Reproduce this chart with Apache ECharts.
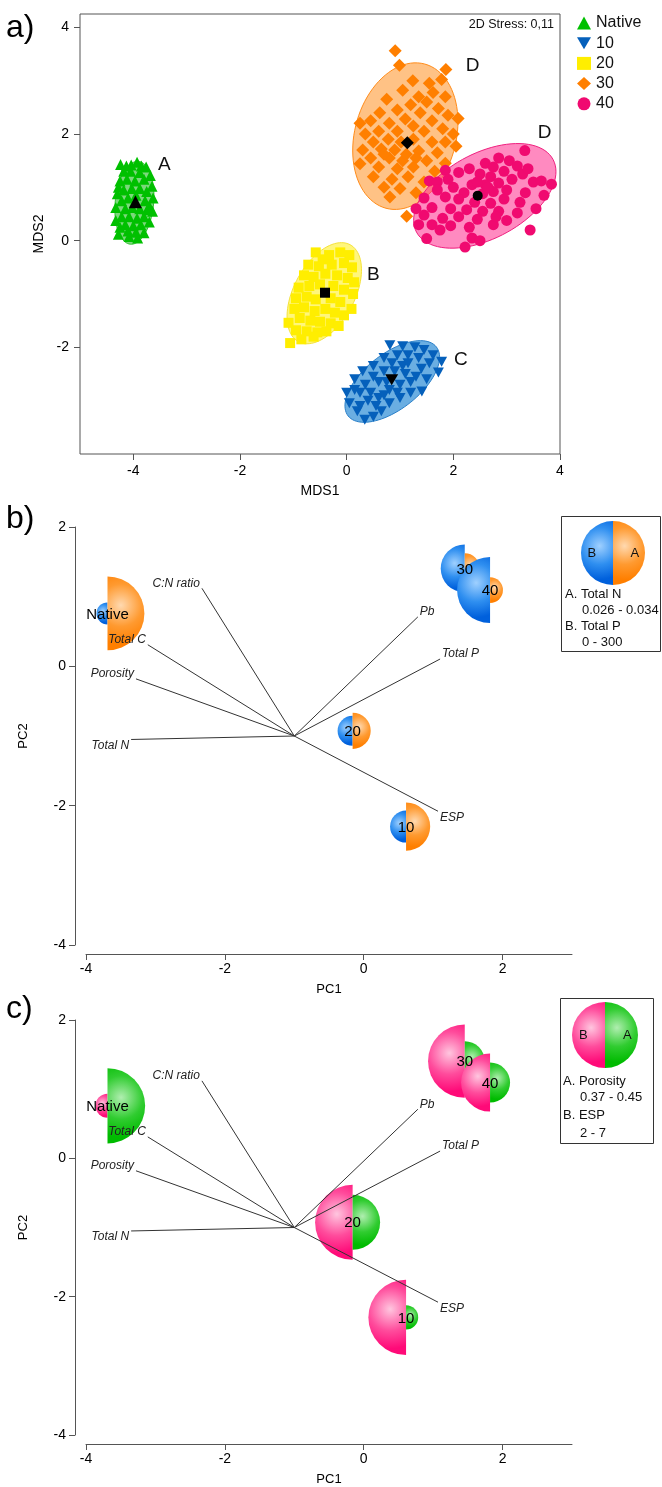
<!DOCTYPE html>
<html>
<head>
<meta charset="utf-8">
<script src="https://cdn.jsdelivr.net/npm/echarts@6/dist/echarts.min.js"></script>
<style>
html, body { margin: 0; padding: 0; background: #fff; }
#chart { width: 662px; height: 1487px; }
</style>
</head>
<body>
<div id="chart"></div>
<script>
// ---------- a) nMDS ordination: samples per treatment ----------
const groupNames = ['Native', '10', '20', '30', '40'];

const nativePts = [
  [-4.24,1.43],[-4.13,1.40],[-3.93,1.47],[-3.76,1.38],[-3.68,1.22],[-3.65,1.02],[-3.63,0.80],[-3.64,0.55],
  [-3.70,0.35],[-3.80,0.15],[-3.92,0.05],[-4.08,0.08],[-4.28,0.12],[-4.33,0.38],[-4.33,0.62],[-4.30,0.88],
  [-4.25,1.12],[-4.18,1.30],[-4.05,1.30],[-3.88,1.28],[-3.80,1.15],[-4.12,1.15],[-3.97,1.12],[-4.18,0.95],
  [-4.03,0.98],[-3.88,0.98],[-3.75,0.92],[-4.22,0.75],[-4.10,0.80],[-3.95,0.85],[-3.78,0.75],[-4.15,0.60],
  [-4.02,0.62],[-3.88,0.60],[-3.74,0.58],[-4.22,0.45],[-4.08,0.45],[-3.93,0.42],[-3.80,0.45],[-4.15,0.30],
  [-4.00,0.28],[-3.86,0.30],[-4.10,0.18],[-3.95,0.16],[-4.04,1.42],[-3.85,1.40],[-4.28,1.00],[-3.70,0.65],
  [-4.25,0.25],[-3.98,0.72]
];
const pts10 = [
  [0.81,-1.96],[1.05,-1.98],[1.28,-2.00],[1.45,-2.05],[1.62,-2.15],[1.78,-2.27],[1.72,-2.47],[1.55,-2.30],
  [1.35,-2.20],[1.15,-2.15],[0.95,-2.15],[0.70,-2.20],[0.50,-2.35],[0.30,-2.45],[0.15,-2.60],[0.00,-2.85],
  [0.05,-3.05],[0.20,-3.20],[0.34,-3.36],[0.50,-3.30],[0.65,-3.20],[0.80,-3.05],[1.00,-2.95],[1.20,-2.85],
  [1.41,-2.83],[1.50,-2.60],[1.30,-2.55],[1.10,-2.50],[0.90,-2.45],[0.70,-2.45],[0.50,-2.55],[0.35,-2.70],
  [0.25,-2.85],[0.40,-3.00],[0.60,-2.95],[0.80,-2.80],[1.00,-2.70],[1.20,-2.65],[1.05,-2.35],[0.85,-2.30],
  [0.60,-2.65],[0.45,-2.85],[0.70,-2.90],[0.95,-2.85],[1.40,-2.40],[0.25,-3.10],[0.55,-3.10],[0.75,-2.65],
  [1.15,-2.30],[0.15,-2.80]
];
const pts20 = [
  [-0.58,-0.22],[-0.33,-0.27],[-0.12,-0.22],[0.05,-0.27],[-0.45,-0.35],
  [-0.72,-0.45],[-0.52,-0.48],[-0.28,-0.45],[-0.05,-0.42],[0.10,-0.50],
  [-0.80,-0.65],[-0.62,-0.68],[-0.40,-0.62],[-0.18,-0.65],[0.02,-0.70],[0.14,-0.78],
  [-0.90,-0.88],[-0.70,-0.85],[-0.50,-0.82],[-0.25,-0.85],[-0.05,-0.92],[0.12,-1.00],
  [-0.95,-1.08],[-0.75,-1.05],[-0.58,-1.10],[-0.30,-1.08],[-0.12,-1.15],[0.09,-1.28],
  [-0.98,-1.28],[-0.80,-1.25],[-0.60,-1.32],[-0.40,-1.28],[-0.22,-1.35],[-0.05,-1.40],
  [-1.09,-1.54],[-0.88,-1.45],[-0.68,-1.50],[-0.50,-1.52],[-0.30,-1.55],[-0.15,-1.60],
  [-0.95,-1.68],[-0.75,-1.70],[-0.55,-1.72],[-0.38,-1.70],
  [-1.06,-1.92],[-0.85,-1.85],[-0.62,-1.80]
];
const pts30 = [
  [0.91,3.56],[0.99,3.29],[1.86,3.21],[1.78,3.02],[1.24,3.00],[1.55,2.95],[1.05,2.82],[1.62,2.78],
  [1.85,2.70],[0.75,2.65],[1.35,2.70],[1.20,2.55],[1.50,2.60],[1.72,2.48],[0.95,2.45],[0.62,2.40],
  [1.38,2.40],[1.90,2.35],[2.09,2.29],[0.25,2.20],[0.45,2.25],[0.80,2.20],[1.10,2.28],[1.60,2.25],
  [1.25,2.15],[1.80,2.10],[0.35,2.00],[0.60,2.05],[0.95,2.05],[1.45,2.05],[2.00,2.00],[0.50,1.85],
  [0.78,1.90],[1.25,1.90],[1.60,1.85],[1.85,1.85],[2.05,1.77],[0.30,1.70],[0.65,1.72],[0.90,1.70],
  [1.35,1.68],[1.70,1.65],[0.45,1.55],[0.80,1.55],[1.05,1.50],[1.50,1.50],[1.85,1.45],[0.25,1.44],
  [0.60,1.38],[0.95,1.35],[1.25,1.38],[1.65,1.30],[0.50,1.20],[0.85,1.15],[1.15,1.20],[1.45,1.10],
  [0.70,1.00],[1.00,0.98],[1.30,0.90],[0.81,0.82],[1.125,0.46],[1.12,1.62],[1.02,1.85],[1.30,1.55],
  [0.70,1.62]
];
const pts40 = [
  [3.34,1.69],[2.85,1.55],[3.05,1.50],[3.20,1.40],[2.60,1.45],[2.75,1.38],[2.30,1.35],[1.85,1.32],
  [2.10,1.28],[2.95,1.30],[3.30,1.25],[2.50,1.25],[2.70,1.20],[1.55,1.12],[1.70,1.10],[3.10,1.15],
  [3.50,1.10],[3.65,1.12],[3.84,1.06],[2.85,1.08],[2.35,1.05],[2.60,1.05],[2.00,1.00],[1.70,0.95],
  [3.00,0.95],[3.35,0.90],[3.70,0.85],[2.20,0.90],[2.75,0.92],[2.55,0.88],[1.45,0.80],[1.85,0.82],
  [2.10,0.78],[2.95,0.78],[3.25,0.72],[2.40,0.72],[2.70,0.70],[1.30,0.60],[1.60,0.62],[1.95,0.60],
  [2.25,0.58],[2.55,0.55],[2.85,0.55],[3.55,0.60],[1.45,0.48],[1.80,0.42],[2.10,0.45],[2.45,0.40],
  [3.00,0.38],[1.35,0.30],[1.60,0.30],[1.95,0.28],[2.30,0.25],[2.75,0.30],[3.44,0.20],[1.50,0.04],
  [2.35,0.05],[2.50,0.00],[2.22,-0.12],[3.20,0.52],[2.65,1.00],[2.45,1.10],[3.40,1.35],[1.90,1.15],
  [2.80,0.45],[1.75,0.20]
];

// group centroids
const centroidX = [-3.96, 0.844, -0.406, 1.137, 2.457];
const centroidY = [0.73, -2.61, -0.976, 1.837, 0.844];

// group ellipses: centre, semi-axes and orientation (degrees from the MDS1 axis)
const ellipseCx = [-3.98, 0.855, -0.42, 1.10, 2.59];
const ellipseCy = [0.71, -2.64, -0.985, 1.96, 0.84];
const ellipseA = [0.78, 1.05, 1.03, 1.40, 1.45];
const ellipseB = [0.36, 0.52, 0.57, 0.95, 0.80];
const ellipseAngle = [84.4, 38, 62, 75, 28];

// significance letters
const groupLetters = ['A', 'C', 'B', 'D', 'D'];
const letterX = [-3.42, 2.14, 0.50, 2.36, 3.71];
const letterY = [1.43, -2.24, -0.64, 3.28, 2.03];

const stressLabel = '2D Stress: 0,11';

// ---------- b), c) PCA biplots ----------
const pcaSamples = ['Native', '10', '20', '30', '40'];
const pcaX = [-3.69, 0.61, -0.16, 1.455, 1.82];
const pcaY = [0.76, -2.30, -0.925, 1.405, 1.095];

const totalN = [0.0337, 0.0303, 0.0287, 0.0279, 0.0273];
const totalP = [30, 80, 70, 160, 250];
const porosity = [0.449, 0.381, 0.422, 0.402, 0.402];
const esp = [2.67, 6.95, 6.92, 6.78, 5.5];

const rangeTotalN = [0.026, 0.034];
const rangeTotalP = [0, 300];
const rangePorosity = [0.37, 0.45];
const rangeESP = [2, 7];

const vectorNames = ['C:N ratio', 'Total C', 'Porosity', 'Total N', 'Pb', 'Total P', 'ESP'];
const vectorX = [-2.33, -3.11, -3.28, -3.35, 0.78, 1.10, 1.07];
const vectorY = [1.12, 0.31, -0.18, -1.05, 0.71, 0.105, -2.08];
const vectorOrigin = [-1.0, -1.0];

// axis ticks
const mdsTicksX = [-4, -2, 0, 2, 4];
const mdsTicksY = [-2, 0, 2, 4];
const pcTicksX = [-4, -2, 0, 2];
const pcTicksY = [-4, -2, 0, 2];

// ---------- styling ----------
const FONT = '"Liberation Sans", Arial, sans-serif';
const DOWN_TRIANGLE = 'path://M0,0L2,0L1,1.732Z';
const markerColors = ['#00c000', '#0560bb', '#ffee00', '#ff7f00', '#f00a70'];
const ellipseFill = ['rgba(37,190,37,0.6)', 'rgba(26,130,210,0.65)', 'rgba(255,238,16,0.55)', 'rgba(255,143,32,0.55)', 'rgba(255,42,140,0.55)'];
const ellipseStroke = ['#33c033', '#2a7fc8', '#f5e23a', '#ff8c1a', '#f0207f'];
const groupSymbols = ['triangle', DOWN_TRIANGLE, 'rect', 'diamond', 'circle'];
const groupSize = [11, [11, 10], 10, 13, 11];
const centroidSize = [13, [13, 11], 10, 13, 10];
const groupPoints = [nativePts, pts10, pts20, pts30, pts40];

const PAL_ORANGE = ['#ffd9b0', '#ff9a30', '#ff7f00'];
const PAL_BLUE = ['#9fd0ff', '#2f8ff0', '#0060dc'];
const PAL_PINK = ['#ffc6df', '#ff4c9c', '#ff0a78'];
const PAL_GREEN = ['#b0eeb0', '#30cc30', '#00bb00'];

function bubbleR(v, range) {
  return 8 + 30 * (v - range[0]) / (range[1] - range[0]);
}

function halfDisc(cx, cy, r, side, pal) {
  const left = side === 'left';
  const hx = cx + (left ? -0.42 : 0.36) * r;
  const hy = cy - 0.22 * r;
  return {
    type: 'sector',
    shape: {
      cx: cx, cy: cy, r0: 0, r: r,
      startAngle: left ? Math.PI / 2 : -Math.PI / 2,
      endAngle: left ? 3 * Math.PI / 2 : Math.PI / 2,
      clockwise: true
    },
    style: {
      fill: new echarts.graphic.RadialGradient(hx, hy, r * 1.05, [
        { offset: 0, color: pal[0] },
        { offset: 0.55, color: pal[1] },
        { offset: 1, color: pal[2] }
      ], true)
    }
  };
}

function bubbleSeries(idx, valsA, rangeA, palA, valsB, rangeB, palB) {
  return {
    type: 'custom', xAxisIndex: idx, yAxisIndex: idx, z: 2, clip: false, silent: true,
    data: pcaSamples.map((s, i) => [pcaX[i], pcaY[i], valsA[i], valsB[i]]),
    renderItem: function (params, api) {
      const p = api.coord([api.value(0), api.value(1)]);
      const rA = bubbleR(api.value(2), rangeA);
      const rB = bubbleR(api.value(3), rangeB);
      return {
        type: 'group',
        children: [
          halfDisc(p[0], p[1], rB, 'left', palB),
          halfDisc(p[0], p[1], rA, 'right', palA)
        ]
      };
    }
  };
}

function sampleLabelSeries(idx) {
  return {
    type: 'custom', xAxisIndex: idx, yAxisIndex: idx, z: 3, clip: false, silent: true,
    data: pcaSamples.map((s, i) => [pcaX[i], pcaY[i], i]),
    renderItem: function (params, api) {
      const p = api.coord([api.value(0), api.value(1)]);
      return {
        type: 'text', x: p[0], y: p[1] + 1,
        style: { text: pcaSamples[api.value(2)], font: '15px ' + FONT, fill: '#000', align: 'center', verticalAlign: 'middle' }
      };
    }
  };
}

function vectorSeries(idx) {
  return {
    type: 'custom', xAxisIndex: idx, yAxisIndex: idx, z: 4, clip: false, silent: true,
    data: vectorNames.map((n, i) => [vectorX[i], vectorY[i], i]),
    renderItem: function (params, api) {
      const o = api.coord(vectorOrigin);
      const e = api.coord([api.value(0), api.value(1)]);
      const right = e[0] > o[0];
      const up = e[1] < o[1];
      return {
        type: 'group',
        children: [
          { type: 'line', shape: { x1: o[0], y1: o[1], x2: e[0], y2: e[1] }, style: { stroke: '#333', lineWidth: 1 } },
          {
            type: 'text', x: e[0] + (right ? 2 : -2), y: e[1] + (up ? 1 : 0),
            style: {
              text: vectorNames[api.value(2)], font: 'italic 12px ' + FONT, fill: '#222',
              align: right ? 'left' : 'right', verticalAlign: up ? 'bottom' : 'top'
            }
          }
        ]
      };
    }
  };
}

function pcAxes(gridIdx) {
  return {
    x: {
      type: 'value', gridIndex: gridIdx, min: -4, max: 3, offset: 9,
      axisLine: { show: true, onZero: false, lineStyle: { color: '#555', width: 1 } },
      axisTick: { show: true, length: 6, customValues: pcTicksX, lineStyle: { color: '#555' } },
      axisLabel: { customValues: pcTicksX, fontSize: 14, fontFamily: FONT, color: '#000', margin: 8 },
      splitLine: { show: false },
      name: 'PC1', nameLocation: 'middle', nameGap: 29,
      nameTextStyle: { fontSize: 13, fontFamily: FONT, color: '#000' }
    },
    y: {
      type: 'value', gridIndex: gridIdx, min: -4, max: 2, offset: 11,
      axisLine: { show: true, onZero: false, lineStyle: { color: '#555', width: 1 } },
      axisTick: { show: true, length: 6, customValues: pcTicksY, lineStyle: { color: '#555' } },
      axisLabel: { customValues: pcTicksY, fontSize: 14, fontFamily: FONT, color: '#000', margin: 9 },
      splitLine: { show: false },
      name: 'PC2', nameLocation: 'middle', nameGap: 45,
      nameTextStyle: { fontSize: 13, fontFamily: FONT, color: '#000' }
    }
  };
}

function keyBox(x, y, w, h, cx, cy, r, palA, palB, lines) {
  const els = [
    { type: 'rect', shape: { x: x, y: y, width: w, height: h }, style: { fill: '#fff', stroke: '#333', lineWidth: 1 }, z: 10 },
    Object.assign(halfDisc(cx, cy, r, 'left', palB), { z: 11 }),
    Object.assign(halfDisc(cx, cy, r, 'right', palA), { z: 11 }),
    { type: 'text', x: cx - 0.66 * r, y: cy, z: 12, style: { text: 'B', font: '13px ' + FONT, fill: '#111', align: 'center', verticalAlign: 'middle' } },
    { type: 'text', x: cx + 0.68 * r, y: cy, z: 12, style: { text: 'A', font: '13px ' + FONT, fill: '#111', align: 'center', verticalAlign: 'middle' } }
  ];
  lines.forEach(function (ln) {
    els.push({ type: 'text', x: ln[1], y: ln[2], z: 12, style: { text: ln[0], font: '13px ' + FONT, fill: '#111', align: 'left', verticalAlign: 'middle' } });
  });
  return els;
}

const pcB = pcAxes(1);
const pcC = pcAxes(2);

const series = [];

// ellipses under the points
series.push({
  type: 'custom', xAxisIndex: 0, yAxisIndex: 0, z: 1, silent: true,
  data: groupNames.map((g, i) => [ellipseCx[i], ellipseCy[i], ellipseA[i], ellipseB[i], ellipseAngle[i], i]),
  renderItem: function (params, api) {
    const cx = api.value(0), cy = api.value(1), a = api.value(2), b = api.value(3);
    const th = api.value(4) * Math.PI / 180, i = api.value(5);
    const pts = [];
    for (let k = 0; k < 90; k++) {
      const t = k / 90 * 2 * Math.PI;
      const ex = a * Math.cos(t), ey = b * Math.sin(t);
      pts.push(api.coord([cx + ex * Math.cos(th) - ey * Math.sin(th), cy + ex * Math.sin(th) + ey * Math.cos(th)]));
    }
    return { type: 'polygon', shape: { points: pts }, style: { fill: ellipseFill[i], stroke: ellipseStroke[i], lineWidth: 1 } };
  }
});

groupNames.forEach(function (g, i) {
  series.push({
    name: g, type: 'scatter', xAxisIndex: 0, yAxisIndex: 0, z: 2, silent: true,
    symbol: groupSymbols[i], symbolSize: groupSize[i],
    itemStyle: { color: markerColors[i], opacity: 1 },
    data: groupPoints[i]
  });
});

series.push({
  type: 'scatter', xAxisIndex: 0, yAxisIndex: 0, z: 3, silent: true,
  itemStyle: { color: '#000', opacity: 1 },
  data: groupNames.map((g, i) => ({
    value: [centroidX[i], centroidY[i]],
    symbol: groupSymbols[i], symbolSize: centroidSize[i]
  }))
});

series.push({
  type: 'custom', xAxisIndex: 0, yAxisIndex: 0, z: 4, silent: true, clip: false,
  data: groupLetters.map((l, i) => [letterX[i], letterY[i], i]),
  renderItem: function (params, api) {
    const p = api.coord([api.value(0), api.value(1)]);
    return { type: 'text', x: p[0], y: p[1], style: { text: groupLetters[api.value(2)], font: '19px ' + FONT, fill: '#111', align: 'center', verticalAlign: 'middle' } };
  }
});

series.push(bubbleSeries(1, totalN, rangeTotalN, PAL_ORANGE, totalP, rangeTotalP, PAL_BLUE));
series.push(sampleLabelSeries(1));
series.push(vectorSeries(1));
series.push(bubbleSeries(2, porosity, rangePorosity, PAL_GREEN, esp, rangeESP, PAL_PINK));
series.push(sampleLabelSeries(2));
series.push(vectorSeries(2));

const option = {
  animation: false,
  backgroundColor: '#fff',
  textStyle: { fontFamily: FONT },
  grid: [
    { left: 80, top: 14, width: 480, height: 440, show: true, borderColor: '#555', borderWidth: 1, backgroundColor: 'transparent', outerBoundsMode: 'none' },
    { left: 86, top: 527, width: 486, height: 418, outerBoundsMode: 'none' },
    { left: 86, top: 1020, width: 486, height: 415, outerBoundsMode: 'none' }
  ],
  xAxis: [
    {
      type: 'value', gridIndex: 0, min: -5, max: 4,
      axisLine: { show: false, onZero: false },
      axisTick: { show: true, length: 6, customValues: mdsTicksX, lineStyle: { color: '#555' } },
      axisLabel: { customValues: mdsTicksX, fontSize: 14, fontFamily: FONT, color: '#000', margin: 10 },
      splitLine: { show: false },
      name: 'MDS1', nameLocation: 'middle', nameGap: 30,
      nameTextStyle: { fontSize: 14, fontFamily: FONT, color: '#000' }
    },
    pcB.x, pcC.x
  ],
  yAxis: [
    {
      type: 'value', gridIndex: 0, min: -4, max: 4.25,
      axisLine: { show: false, onZero: false },
      axisTick: { show: true, length: 6, customValues: mdsTicksY, lineStyle: { color: '#555' } },
      axisLabel: { customValues: mdsTicksY, fontSize: 14, fontFamily: FONT, color: '#000', margin: 11 },
      splitLine: { show: false },
      name: 'MDS2', nameLocation: 'middle', nameGap: 30,
      nameTextStyle: { fontSize: 14, fontFamily: FONT, color: '#000' }
    },
    pcB.y, pcC.y
  ],
  legend: {
    data: groupNames, orient: 'vertical', left: 572, top: 10,
    itemWidth: 14, itemHeight: 13, itemGap: 4.2,
    textStyle: { fontSize: 16, fontFamily: FONT, color: '#111' },
    selectedMode: false
  },
  graphic: [].concat(
    [
      { type: 'text', left: 6, top: 12, style: { text: 'a)', font: '32px ' + FONT, fill: '#000' } },
      { type: 'text', left: 6, top: 503, style: { text: 'b)', font: '32px ' + FONT, fill: '#000' } },
      { type: 'text', left: 6, top: 993, style: { text: 'c)', font: '32px ' + FONT, fill: '#000' } },
      { type: 'text', x: 554, y: 25, z: 10, style: { text: stressLabel, font: '12.5px ' + FONT, fill: '#111', align: 'right', verticalAlign: 'middle' } }
    ],
    keyBox(561.5, 516.5, 99, 135, 613, 553, 32, PAL_ORANGE, PAL_BLUE,
      [['A. Total N', 565, 594], [rangeTotalN[0].toFixed(3) + ' - ' + rangeTotalN[1].toFixed(3), 582, 610],
       ['B. Total P', 565, 626], [rangeTotalP[0] + ' - ' + rangeTotalP[1], 582, 642]]),
    keyBox(560.5, 998.5, 93, 145, 605, 1035, 33, PAL_GREEN, PAL_PINK,
      [['A. Porosity', 563, 1081], [rangePorosity[0].toFixed(2) + ' - ' + rangePorosity[1].toFixed(2), 580, 1097],
       ['B. ESP', 563, 1115], [rangeESP[0] + ' - ' + rangeESP[1], 580, 1133]])
  ),
  series: series
};

const chart = echarts.init(document.getElementById('chart'), null, { renderer: 'canvas' });
chart.setOption(option);
</script>
</body>
</html>
